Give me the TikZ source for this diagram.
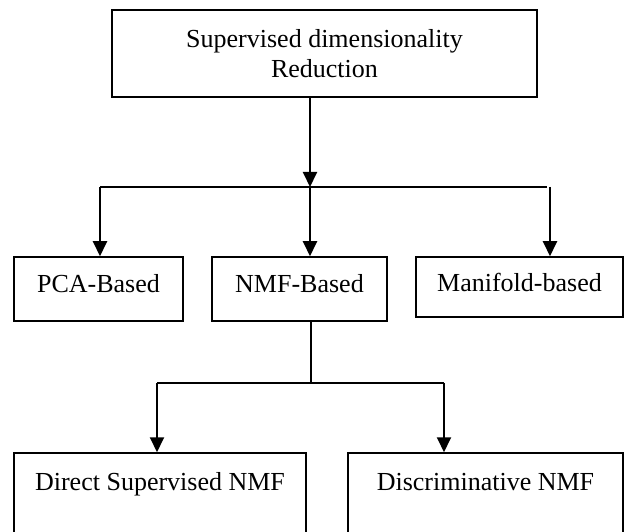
\documentclass[tikz,border=0pt]{standalone}
\usepackage{fontspec}
\setmainfont{Liberation Serif}
\usetikzlibrary{arrows.meta,positioning}

\begin{document}
\begin{tikzpicture}[x=1pt, y=-1pt,
    caixa/.style={draw, line width=1.5pt, inner sep=0pt,
        font=\fontsize{26}{30}\selectfont},
    raiz/.style={caixa, align=center, minimum width=425pt, minimum height=87pt},
    ligacao/.style={line width=1.6pt},
    seta/.style={-{Triangle[length=15pt, width=14pt]}, line width=2pt}
]
    \clip (0,0) rectangle (625,532);

    \node[raiz] (root) at (324.5,53.5) {Supervised dimensionality\\Reduction};
    \node[caixa, minimum width=169pt, text height=36pt, text depth=28pt] (pca) at (98.5,289) {PCA-Based};
    \node[caixa, minimum width=175pt, text height=36pt, text depth=28pt] (nmf) at (299.5,289) {NMF-Based};
    \node[caixa, minimum width=207pt, text height=35pt, text depth=25pt] (manifold) at (519.5,287) {Manifold-based};
    \node[caixa, minimum width=292pt, text height=37pt, text depth=63pt] (direct) at (160,503) {Direct Supervised NMF};
    \node[caixa, minimum width=275pt, text height=37pt, text depth=63pt] (discrim) at (485.5,503) {Discriminative NMF};

    % first split
    \coordinate (split) at (310,187);
    \coordinate (splitL) at (100,187);
    \coordinate (splitR) at (547,187);
    \coordinate (mright) at (550,187);
    \draw[seta] (root.south -| split) -- (split);
    \draw[ligacao] (splitL) -- (splitR);
    \draw[seta] (splitL) -- (splitL |- pca.north);
    \draw[seta] (split) -- (split |- nmf.north);
    \draw[seta] (mright) -- (mright |- manifold.north);

    % second split
    \coordinate (fork) at (311,383);
    \coordinate (forkL) at (157,383);
    \coordinate (forkR) at (444,383);
    \draw[ligacao] (nmf.south -| fork) -- (fork);
    \draw[ligacao] (forkL) -- (forkR);
    \draw[seta] (forkL) -- (forkL |- direct.north);
    \draw[seta] (forkR) -- (forkR |- discrim.north);
\end{tikzpicture}
\end{document}
